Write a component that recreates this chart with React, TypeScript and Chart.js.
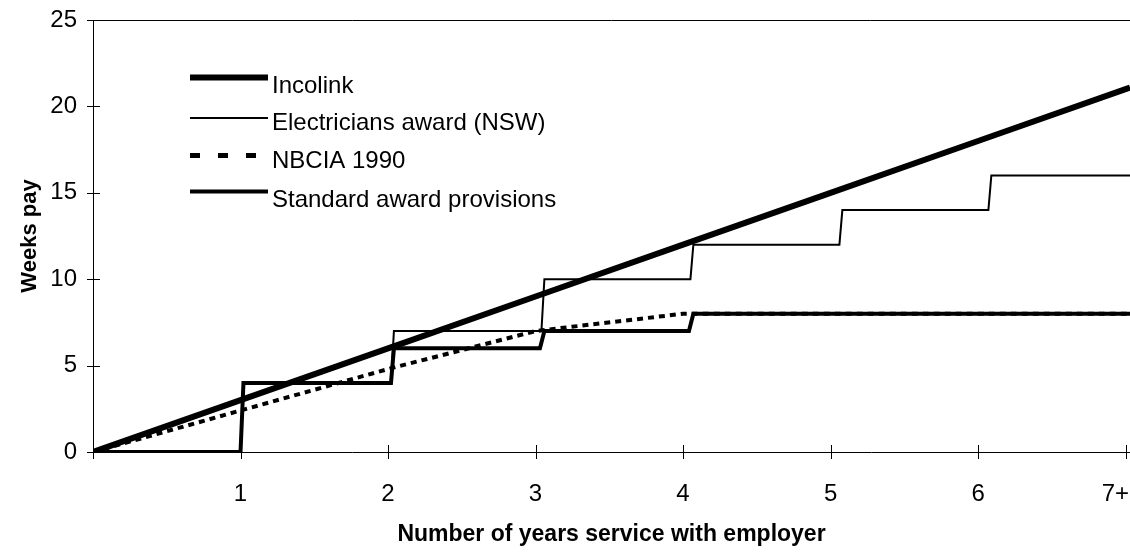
import React, { useEffect, useRef } from "react";
import { Chart, registerables } from "chart.js";

Chart.register(...registerables);

// ---- Data ----
const seriesNames = [
  "Incolink",
  "Electricians award (NSW)",
  "NBCIA 1990",
  "Standard award provisions",
];

const incolinkYears = [0, 1, 2, 3, 4, 5, 6, 7, 7.03];
const incolinkWeeks = [0, 3, 6, 9, 12, 15, 18, 21, 21.09];

const electriciansYears = [0, 1, 1.02, 2.02, 2.04, 3.04, 3.06, 4.05, 4.07, 5.06, 5.08, 6.07, 6.09, 7.03];
const electriciansWeeks = [0, 0, 4, 4, 7, 7, 10, 10, 12, 12, 14, 14, 16, 16];

const nbciaYears = [0, 1, 2, 3, 4, 7.03];
const nbciaWeeks = [0, 2.4, 4.8, 7, 8, 8];

const standardYears = [0, 1, 1.02, 2.02, 2.04, 3.03, 3.06, 4.04, 4.07, 7.03];
const standardWeeks = [0, 0, 4, 4, 6, 6, 7, 7, 8, 8];

const xTickValues = [0, 1, 2, 3, 4, 5, 6, 7];
const xTickLabels = ["", "1", "2", "3", "4", "5", "6", "7+"];
const yTickValues = [0, 5, 10, 15, 20, 25];

const toPoints = (xs: number[], ys: number[]) => xs.map((x, i) => ({ x, y: ys[i] }));

const FONT = "'Liberation Sans', Arial, Helvetica, sans-serif";

// legend styling (drawn in plot area, top-left)
const legendStyles = [
  { width: 6, dash: [] as number[], lineY: 77.5, baseY: 93 },
  { width: 2, dash: [] as number[], lineY: 118, baseY: 130 },
  { width: 5, dash: [10, 18], lineY: 155.5, baseY: 168 },
  { width: 4, dash: [] as number[], lineY: 191.5, baseY: 207 },
];

const decorPlugin = {
  id: "decor",
  afterDraw(chart: any) {
    const { ctx, chartArea, scales } = chart;
    ctx.save();
    ctx.strokeStyle = "#000";
    ctx.lineWidth = 1;
    ctx.setLineDash([]);
    ctx.beginPath();
    // top border
    ctx.moveTo(chartArea.left, chartArea.top + 0.5);
    ctx.lineTo(chartArea.right, chartArea.top + 0.5);
    // y tick marks crossing the axis
    for (const v of yTickValues) {
      const y = Math.round(scales.y.getPixelForValue(v)) + 0.5;
      ctx.moveTo(chartArea.left - 6, y);
      ctx.lineTo(chartArea.left + 7, y);
    }
    // x tick marks crossing the axis
    for (const v of xTickValues) {
      const x = Math.round(scales.x.getPixelForValue(v)) + 0.5;
      ctx.moveTo(x, chartArea.bottom - 7);
      ctx.lineTo(x, chartArea.bottom + 7);
    }
    ctx.stroke();

    // x tick labels (kept inside the canvas at the right edge)
    ctx.font = `24px ${FONT}`;
    ctx.fillStyle = "#000";
    ctx.textAlign = "center";
    ctx.textBaseline = "alphabetic";
    xTickValues.forEach((v, i) => {
      const label = xTickLabels[i];
      if (!label) return;
      const w = ctx.measureText(label).width;
      let x = scales.x.getPixelForValue(v);
      x = Math.min(x, chart.width - w / 2 - 1);
      ctx.fillText(label, x, chartArea.bottom + 49);
    });

    // legend
    const x0 = 190, x1 = 268, tx = 272;
    ctx.textAlign = "left";
    chart.data.datasets.forEach((ds: any, i: number) => {
      const st = legendStyles[i];
      ctx.beginPath();
      ctx.lineWidth = st.width;
      ctx.lineCap = "butt";
      ctx.setLineDash(st.dash);
      ctx.moveTo(x0, st.lineY);
      ctx.lineTo(x1, st.lineY);
      ctx.stroke();
      ctx.setLineDash([]);
      ctx.fillText(ds.label, tx, st.baseY);
    });
    ctx.restore();
  },
};

export default function App() {
  const ref = useRef<HTMLCanvasElement>(null);

  useEffect(() => {
    document.body.style.margin = "0";
    Chart.defaults.font.family = FONT;
    const chart = new Chart(ref.current!, {
      type: "line",
      data: {
        datasets: [
          {
            label: seriesNames[0],
            data: toPoints(incolinkYears, incolinkWeeks),
            borderColor: "#000",
            borderWidth: 6,
            pointRadius: 0,
            tension: 0,
            order: 0,
          },
          {
            label: seriesNames[1],
            data: toPoints(electriciansYears, electriciansWeeks),
            borderColor: "#000",
            borderWidth: 2,
            pointRadius: 0,
            tension: 0,
            order: 1,
          },
          {
            label: seriesNames[2],
            data: toPoints(nbciaYears, nbciaWeeks),
            borderColor: "#000",
            borderWidth: 4,
            borderDash: [6, 5],
            pointRadius: 0,
            tension: 0,
            order: 3,
          },
          {
            label: seriesNames[3],
            data: toPoints(standardYears, standardWeeks),
            borderColor: "#000",
            borderWidth: 4,
            pointRadius: 0,
            tension: 0,
            order: 2,
          },
        ],
      },
      options: {
        responsive: true,
        maintainAspectRatio: false,
        animation: false,
        layout: { padding: { top: 20, left: 0, right: 0, bottom: 0 } },
        plugins: {
          legend: { display: false },
          tooltip: { enabled: false },
        },
        scales: {
          x: {
            type: "linear",
            min: 0,
            max: 7.03,
            grid: { display: false },
            border: { display: true, color: "#000", width: 1 },
            afterBuildTicks: (s: any) => {
              s.ticks = xTickValues.map((v) => ({ value: v }));
            },
            afterFit: (s: any) => {
              s.height = 107;
              s.paddingLeft = 0;
              s.paddingRight = 0;
            },
            ticks: { display: false },
            title: {
              display: true,
              text: "Number of years service with employer",
              color: "#000",
              font: { size: 23, weight: "bold" },
              padding: { top: 0, bottom: 11 },
            },
          },
          y: {
            type: "linear",
            min: 0,
            max: 25,
            grid: { display: false },
            border: { display: true, color: "#000", width: 1 },
            afterBuildTicks: (s: any) => {
              s.ticks = yTickValues.map((v) => ({ value: v }));
            },
            afterFit: (s: any) => {
              s.width = 93;
              s.paddingTop = 0;
              s.paddingBottom = 0;
            },
            ticks: {
              color: "#000",
              font: { size: 24 },
              padding: 8,
            },
            title: {
              display: true,
              text: "Weeks pay",
              color: "#000",
              font: { size: 22, weight: "bold" },
              padding: { top: 17, bottom: 0 },
            },
          },
        },
      },
      plugins: [decorPlugin],
    });
    return () => chart.destroy();
  }, []);

  return (
    <div style={{ width: 1130, height: 559, position: "relative" }}>
      <canvas ref={ref} />
    </div>
  );
}
